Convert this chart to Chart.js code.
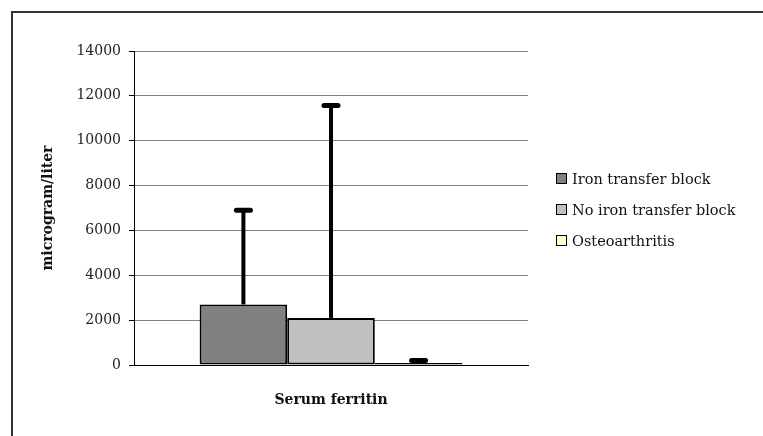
<!DOCTYPE html>
<html>
<head>
<meta charset="utf-8">
<script src="https://cdn.jsdelivr.net/npm/chart.js@4/dist/chart.umd.min.js"></script>
<style>
  html, body { margin: 0; padding: 0; background: #fff; }
  #wrap { position: relative; width: 763px; height: 436px; overflow: hidden; }
  #frame { position: absolute; left: 11px; top: 11px; width: 800px; height: 500px;
           border-left: 2px solid #333; border-top: 2px solid #333; }
  canvas { position: absolute; left: 0; top: 0; }
  #legend { position: absolute; left: 556px; top: 163px; font-family: "DejaVu Serif", serif;
            font-size: 14.5px; color: #111; }
  .item { height: 31px; display: flex; align-items: center; white-space: nowrap; }
  .box { width: 9px; height: 9px; border: 1.5px solid #000; margin-right: 5px; flex: none; }
</style>
</head>
<body>
<div id="wrap">
  <div id="frame"></div>
  <canvas id="c" width="763" height="436"></canvas>
  <div id="legend"></div>
</div>
<script>
const categories = ["Serum ferritin"];
const seriesNames = ["Iron transfer block", "No iron transfer block", "Osteoarthritis"];
const seriesColors = ["#808080", "#C0C0C0", "#FFFFCC"];
const meanValues = [2700, 2100, 90];
const errorPlus = [4200, 9470, 110];
const yTicks = [0, 2000, 4000, 6000, 8000, 10000, 12000, 14000];

const legend = document.getElementById('legend');
seriesNames.forEach((n, i) => {
  const d = document.createElement('div');
  d.className = 'item';
  d.innerHTML = '<span class="box" style="background:' + seriesColors[i] + '"></span><span>' + n + '</span>';
  legend.appendChild(d);
});

const errorBars = {
  id: 'errorBars',
  afterDatasetsDraw(chart) {
    const ctx = chart.ctx;
    const y = chart.scales.y;
    chart.data.datasets.forEach((ds, i) => {
      const meta = chart.getDatasetMeta(i);
      const bar = meta.data[0];
      const x = bar.x;
      const y0 = y.getPixelForValue(meanValues[i]);
      const y1 = y.getPixelForValue(meanValues[i] + errorPlus[i]);
      ctx.save();
      ctx.strokeStyle = '#000';
      ctx.lineCap = 'butt';
      ctx.lineWidth = 4;
      ctx.beginPath();
      ctx.moveTo(x, y0);
      ctx.lineTo(x, y1);
      ctx.stroke();
      ctx.lineCap = 'round';
      ctx.lineWidth = 5;
      ctx.beginPath();
      ctx.moveTo(x - 7, y1);
      ctx.lineTo(x + 7, y1);
      ctx.stroke();
      ctx.restore();
    });
  }
};

new Chart(document.getElementById('c'), {
  type: 'bar',
  data: {
    labels: categories,
    datasets: seriesNames.map((n, i) => ({
      label: n,
      data: [meanValues[i]],
      backgroundColor: seriesColors[i],
      borderColor: '#000',
      borderWidth: 2,
      borderSkipped: false,
      categoryPercentage: 0.667,
      barPercentage: 1.0
    }))
  },
  options: {
    responsive: false,
    animation: false,
    devicePixelRatio: 1,
    layout: { padding: { left: 0, top: 51, right: 235, bottom: 0 } },
    plugins: { legend: { display: false }, tooltip: { enabled: false } },
    scales: {
      x: {
        afterFit(s) { s.height = 71; },
        grid: { display: false, drawTicks: false },
        border: { display: true, color: '#000', width: 1 },
        ticks: { padding: 27, color: '#111', font: { family: 'DejaVu Serif', size: 14, weight: 'bold' } }
      },
      y: {
        min: 0, max: 14000,
        afterFit(s) { s.width = 134; },
        afterBuildTicks(s) { s.ticks = yTicks.map(v => ({ value: v })); },
        grid: { color: '#808080', lineWidth: 1, tickLength: 5, tickColor: '#000' },
        border: { display: true, color: '#000', width: 1 },
        ticks: { padding: 8, color: '#222', font: { family: 'DejaVu Serif', size: 14 },
                 callback: (v) => String(v) },
        title: { display: true, text: 'microgram/liter', color: '#111', padding: { top: 40, bottom: 0 },
                 font: { family: 'DejaVu Serif', size: 14, weight: 'bold' } }
      }
    }
  },
  plugins: [errorBars]
});
</script>
</body>
</html>
